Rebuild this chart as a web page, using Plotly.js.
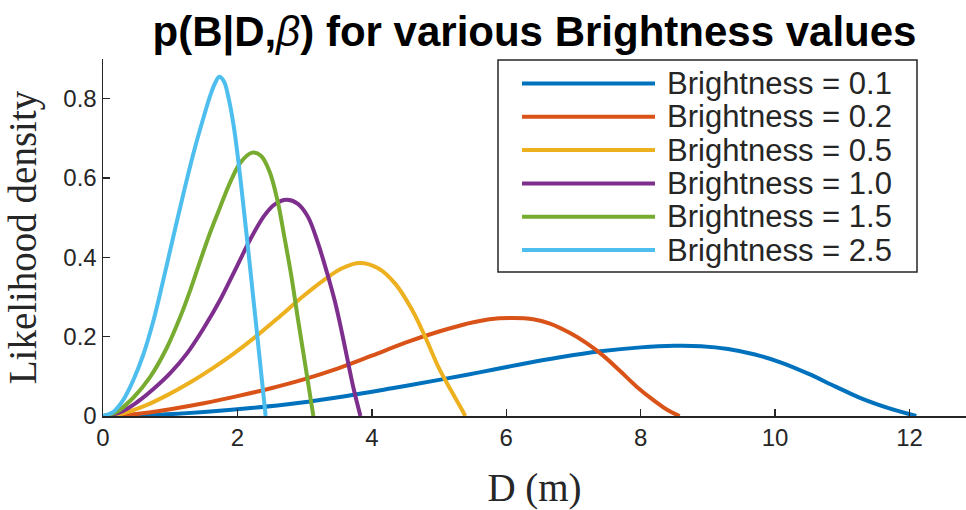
<!DOCTYPE html>
<html>
<head>
<meta charset="utf-8">
<script src="https://cdn.plot.ly/plotly-3.0.1.min.js"></script>
<style>
  html, body { margin: 0; padding: 0; background: #ffffff; }
  #chart { width: 966px; height: 510px; }
</style>
</head>
<body>
<div id="chart"></div>
<script>
// ---- Data ----
const brightnessLabels = ["Brightness = 0.1", "Brightness = 0.2", "Brightness = 0.5",
                          "Brightness = 1.0", "Brightness = 1.5", "Brightness = 2.5"];

const d_b01 = [0, 0.8, 1.5, 2.2, 2.9, 3.6, 4.3, 5.0, 5.6, 6.2, 6.8, 7.4, 8.0, 8.5, 8.9, 9.3, 9.7, 10.1, 10.5, 10.9, 11.3, 11.7, 12.1];
const p_b01 = [0, 0.003, 0.010, 0.020, 0.033, 0.050, 0.070, 0.091, 0.110, 0.130, 0.148, 0.163, 0.173, 0.177, 0.176, 0.169, 0.155, 0.134, 0.106, 0.074, 0.043, 0.019, 0];

const d_b02 = [0, 0.5, 1.0, 1.5, 2.0, 2.5, 3.0, 3.5, 4.0, 4.5, 5.0, 5.4, 5.75, 6.1, 6.4, 6.65, 6.95, 7.2, 7.45, 7.69, 7.94, 8.19, 8.4, 8.58];
const p_b02 = [0, 0.005, 0.017, 0.032, 0.050, 0.070, 0.093, 0.120, 0.152, 0.185, 0.213, 0.232, 0.244, 0.247, 0.244, 0.233, 0.209, 0.183, 0.151, 0.114, 0.074, 0.040, 0.015, 0];

const d_b05 = [0, 0.3, 0.6, 0.95, 1.3, 1.6, 1.95, 2.3, 2.63, 2.95, 3.28, 3.55, 3.82, 4.1, 4.35, 4.6, 4.8, 5.0, 5.2, 5.31, 5.39];
const p_b05 = [0, 0.007, 0.024, 0.052, 0.085, 0.117, 0.158, 0.204, 0.251, 0.298, 0.342, 0.372, 0.386, 0.372, 0.333, 0.267, 0.197, 0.120, 0.058, 0.025, 0];

const d_b10 = [0, 0.25, 0.5, 0.75, 1.0, 1.25, 1.5, 1.75, 2.0, 2.2, 2.4, 2.55, 2.73, 2.9, 3.05, 3.2, 3.33, 3.45, 3.55, 3.65, 3.73, 3.83];
const p_b10 = [0, 0.009, 0.034, 0.068, 0.108, 0.158, 0.222, 0.295, 0.380, 0.448, 0.505, 0.533, 0.545, 0.535, 0.502, 0.435, 0.363, 0.289, 0.214, 0.132, 0.068, 0];

const d_b15 = [0, 0.2, 0.45, 0.7, 0.95, 1.15, 1.3, 1.45, 1.6, 1.75, 1.9, 2.05, 2.22, 2.35, 2.48, 2.6, 2.7, 2.8, 2.9, 2.98, 3.05, 3.13];
const p_b15 = [0, 0.010, 0.046, 0.098, 0.172, 0.250, 0.318, 0.393, 0.465, 0.530, 0.592, 0.640, 0.664, 0.656, 0.615, 0.540, 0.450, 0.355, 0.245, 0.160, 0.085, 0];

const d_b25 = [0, 0.15, 0.3, 0.45, 0.6, 0.75, 0.9, 1.05, 1.2, 1.35, 1.5, 1.6, 1.67, 1.73, 1.8, 1.87, 1.95, 2.05, 2.15, 2.25, 2.34, 2.42];
const p_b25 = [0, 0.010, 0.040, 0.090, 0.155, 0.240, 0.345, 0.455, 0.563, 0.665, 0.755, 0.810, 0.840, 0.855, 0.843, 0.800, 0.725, 0.590, 0.435, 0.275, 0.130, 0];

const xTicks = [0, 2, 4, 6, 8, 10, 12];
const yTicks = [0, 0.2, 0.4, 0.6, 0.8];
const yTickText = ["0", "0.2", "0.4", "0.6", "0.8"];

// ---- Styles ----
const colors = ["#0072BD", "#D95319", "#EDB120", "#7E2F8E", "#77AC30", "#4DBEEE"];
const xs = [d_b01, d_b02, d_b05, d_b10, d_b15, d_b25];
const ys = [p_b01, p_b02, p_b05, p_b10, p_b15, p_b25];
const axisColor = "#262626";
const sans = "Liberation Sans, Arial, Helvetica, sans-serif";
const serif = "Liberation Serif, Times New Roman, serif";

const traces = xs.map((x, i) => ({
  type: "scatter",
  mode: "lines",
  x: x,
  y: ys[i],
  name: brightnessLabels[i],
  line: { color: colors[i], width: 4, shape: "spline", smoothing: 1 },
  showlegend: false,
  hoverinfo: "skip"
}));

// ---- Layout geometry (pixels) ----
const W = 966, H = 510;
const mL = 103, mR = 0, mT = 59, mB = 94;
const plotW = W - mL - mR, plotH = H - mT - mB;
const px2xp = px => (px - mL) / plotW;
const py2yp = py => (H - mB - py) / plotH;

// custom legend (MATLAB style: long line samples)
const legBox = { x0: 498, x1: 917, y0: 60, y1: 272 };
const rowY0 = 83.5, rowDy = 33.3;
const lineX0 = 522, lineX1 = 655, textX = 665;

const shapes = [{
  type: "rect", xref: "paper", yref: "paper",
  x0: px2xp(legBox.x0), x1: px2xp(legBox.x1),
  y0: py2yp(legBox.y1), y1: py2yp(legBox.y0),
  line: { color: axisColor, width: 1.5 }, fillcolor: "#ffffff", layer: "below"
}];
const annotations = [];
brightnessLabels.forEach((lab, i) => {
  const yy = py2yp(rowY0 + i * rowDy);
  shapes.push({
    type: "line", xref: "paper", yref: "paper",
    x0: px2xp(lineX0), x1: px2xp(lineX1), y0: yy, y1: yy,
    line: { color: colors[i], width: 4 }
  });
  annotations.push({
    xref: "paper", yref: "paper", x: px2xp(textX), y: yy,
    xanchor: "left", yanchor: "middle", showarrow: false,
    text: lab,
    font: { family: sans, size: 31, color: axisColor }
  });
});

const layout = {
  width: W, height: H,
  margin: { l: mL, r: mR, t: mT, b: mB, pad: 0 },
  paper_bgcolor: "#ffffff",
  plot_bgcolor: "#ffffff",
  title: {
    text: "p(B|D,<span style=\"font-weight:normal\"><i>β</i></span>) for various Brightness values",
    font: { family: sans, size: 42, color: "#000000", weight: "bold" },
    x: (mL + plotW / 2) / W, xanchor: "center", xref: "container",
    y: 1 - 31 / H, yanchor: "middle", yref: "container"
  },
  xaxis: {
    range: [0, 12.84],
    tickmode: "array", tickvals: xTicks, ticktext: xTicks.map(String),
    ticks: "inside", ticklen: 7, tickwidth: 1.5, tickcolor: axisColor,
    showline: true, linecolor: axisColor, linewidth: 1.5,
    showgrid: false, zeroline: false,
    tickfont: { family: sans, size: 24, color: axisColor },
    title: { text: "D (m)", font: { family: serif, size: 39, color: axisColor }, standoff: 24 },
    fixedrange: true
  },
  yaxis: {
    range: [0, 0.9],
    tickmode: "array", tickvals: yTicks, ticktext: yTickText,
    ticks: "inside", ticklen: 7, tickwidth: 1.5, tickcolor: axisColor,
    showline: true, linecolor: axisColor, linewidth: 1.5,
    showgrid: false, zeroline: false,
    tickfont: { family: sans, size: 24, color: axisColor },
    title: { text: "Likelihood density", font: { family: serif, size: 39, color: axisColor }, standoff: 14 },
    fixedrange: true
  },
  shapes: shapes,
  annotations: annotations,
  showlegend: false
};

Plotly.newPlot("chart", traces, layout, { staticPlot: true, displayModeBar: false });
</script>
</body>
</html>
